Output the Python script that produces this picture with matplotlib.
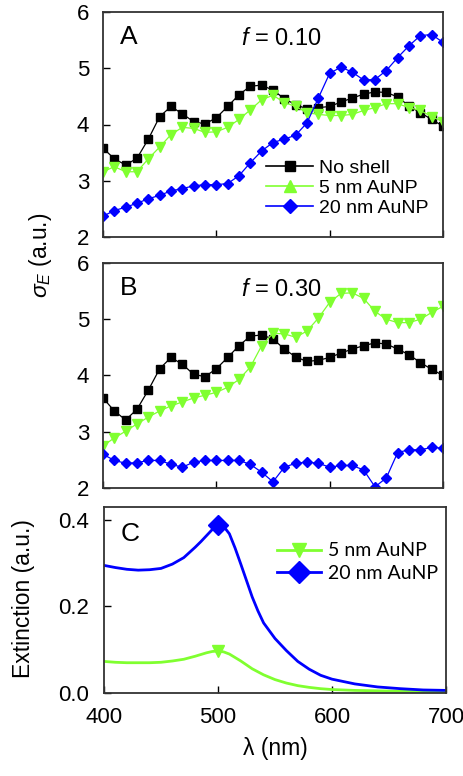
import numpy as np
import matplotlib
matplotlib.use("Agg")
import matplotlib.pyplot as plt

plt.rcParams['font.family'] = ['Liberation Sans', 'DejaVu Sans']
plt.rcParams['mathtext.fontset'] = 'custom'
plt.rcParams['mathtext.rm'] = 'Liberation Sans'
plt.rcParams['mathtext.it'] = 'Liberation Sans:italic'

# wavelength grid (nm)
wl = [400, 410, 420, 430, 440, 450, 460, 470, 480, 490, 500,
      510, 520, 530, 540, 550, 560, 570, 580, 590, 600,
      610, 620, 630, 640, 650, 660, 670, 680, 690, 700]

# panel A, f = 0.10
a_noshell = [3.58, 3.39, 3.28, 3.40, 3.74, 4.14, 4.32, 4.19, 4.05, 4.01, 4.12,
             4.32, 4.53, 4.68, 4.70, 4.61, 4.46, 4.35, 4.28, 4.30, 4.32,
             4.40, 4.47, 4.54, 4.58, 4.57, 4.49, 4.33, 4.21, 4.09, 3.97]
a_5nm = [3.16, 3.25, 3.16, 3.16, 3.39, 3.60, 3.82, 3.95, 3.93, 3.86, 3.87,
         3.95, 4.09, 4.26, 4.44, 4.52, 4.39, 4.32, 4.21, 4.18, 4.16,
         4.16, 4.18, 4.25, 4.30, 4.37, 4.37, 4.30, 4.25, 4.14, 4.05]
a_20nm = [2.37, 2.47, 2.53, 2.60, 2.68, 2.74, 2.82, 2.86, 2.91, 2.93, 2.93,
          2.95, 3.09, 3.32, 3.53, 3.68, 3.74, 3.81, 4.03, 4.47, 4.91,
          5.02, 4.93, 4.79, 4.80, 4.96, 5.19, 5.40, 5.58, 5.60, 5.46]

# panel B, f = 0.30
b_noshell = [3.60, 3.37, 3.21, 3.40, 3.74, 4.12, 4.32, 4.20, 4.02, 3.98, 4.12,
             4.32, 4.53, 4.70, 4.72, 4.65, 4.47, 4.33, 4.25, 4.27, 4.32,
             4.40, 4.47, 4.53, 4.58, 4.56, 4.47, 4.37, 4.23, 4.11, 4.00]
b_5nm = [2.75, 2.89, 3.01, 3.14, 3.26, 3.37, 3.46, 3.53, 3.60, 3.65, 3.70,
         3.79, 3.93, 4.15, 4.53, 4.75, 4.74, 4.68, 4.79, 5.02, 5.30,
         5.46, 5.47, 5.37, 5.14, 5.00, 4.94, 4.94, 5.00, 5.12, 5.23]
b_20nm = [2.60, 2.49, 2.44, 2.45, 2.49, 2.49, 2.42, 2.37, 2.46, 2.49, 2.49,
          2.49, 2.49, 2.42, 2.28, 2.11, 2.37, 2.44, 2.46, 2.44, 2.37,
          2.40, 2.40, 2.32, 2.02, 2.18, 2.63, 2.68, 2.68, 2.72, 2.71]

# panel C, extinction of bare AuNP (finer sampling round the plasmon peak)
wl_c = [400, 410, 420, 430, 440, 450, 460, 470, 480, 485, 490, 495, 500,
        505, 510, 515, 520, 525, 530, 535, 540, 550, 560, 570, 580, 590,
        600, 620, 640, 660, 680, 700]
c_5nm = [0.073, 0.071, 0.070, 0.070, 0.070, 0.071, 0.074, 0.078, 0.085, 0.089,
         0.093, 0.096, 0.097, 0.095, 0.090, 0.082, 0.074, 0.065, 0.056, 0.049,
         0.042, 0.031, 0.023, 0.017, 0.013, 0.010, 0.008, 0.006, 0.005, 0.004,
         0.003, 0.003]
c_20nm = [0.295, 0.290, 0.286, 0.284, 0.285, 0.288, 0.298, 0.313, 0.337, 0.350,
          0.364, 0.378, 0.388, 0.385, 0.368, 0.335, 0.298, 0.260, 0.222, 0.190,
          0.162, 0.126, 0.098, 0.073, 0.055, 0.041, 0.032, 0.021, 0.014, 0.010,
          0.007, 0.006]
c_peak = 500

labels = ["No shell", "5 nm AuNP", "20 nm AuNP"]
BLACK = "#000000"
GREEN = "#80ff30"
BLUE = "#0000ff"

W, H = 464, 776
fig = plt.figure(figsize=(W / 100, H / 100), dpi=100)


def box(l, t, r, b):
    return [l / W, 1 - b / H, (r - l) / W, (b - t) / H]


def style(ax):
    for s in ax.spines.values():
        s.set_color("#333333")
        s.set_linewidth(1.3)
    ax.tick_params(direction="in", length=5, width=1, labelsize=16,
                   top=False, right=False, pad=10)
    ax.set_xlim(400, 700)
    ax.set_xticks([400, 500, 600, 700])


axA = fig.add_axes(box(103, 12, 443, 237))
axB = fig.add_axes(box(103, 263, 443, 488))
axC = fig.add_axes(box(104, 507, 446, 693))

for ax, ys, tag, ftxt in [(axA, (a_noshell, a_5nm, a_20nm), "A", "0.10"),
                          (axB, (b_noshell, b_5nm, b_20nm), "B", "0.30")]:
    style(ax)
    ax.plot(wl, ys[0], color=BLACK, marker="s", ms=5.5, lw=0.9, mec=BLACK)
    ax.plot(wl, ys[1], color=GREEN, marker="v", ms=6.5, lw=0.9, mec=GREEN)
    ax.plot(wl, ys[2], color=BLUE, marker="D", ms=5.5, lw=0.9, mec=BLUE)
    ax.set_ylim(2, 6)
    ax.set_yticks([2, 3, 4, 5, 6])
    ax.set_xticklabels([])
    ax.text(0.05, 0.89, tag, transform=ax.transAxes, fontsize=19,
            ha="left", va="center")
    ax.text(0.525, 0.88, r"$f$ = " + ftxt, transform=ax.transAxes,
            fontsize=17, ha="center", va="center")

# legend in panel A (triangle drawn upward in the key)
hA = [plt.Line2D([], [], color=BLACK, marker="s", ms=7, lw=1.2),
      plt.Line2D([], [], color=GREEN, marker="^", ms=8, lw=1.2),
      plt.Line2D([], [], color=BLUE, marker="D", ms=7, lw=1.2)]
axA.legend(hA, labels, loc="upper left", bbox_to_anchor=(0.48, 0.345),
           frameon=False, fontsize=14, handlelength=2.4, handletextpad=0.3,
           labelspacing=0.13, borderpad=0, borderaxespad=0)

# panel C
style(axC)
axC.plot(wl_c, c_5nm, color=GREEN, lw=2)
axC.plot(wl_c, c_20nm, color=BLUE, lw=2)
axC.plot([c_peak], [c_5nm[wl_c.index(c_peak)]], color=GREEN, marker="v",
         ms=9, ls="none")
axC.plot([c_peak], [c_20nm[wl_c.index(c_peak)]], color=BLUE, marker="D",
         ms=10, ls="none")
axC.set_ylim(0, 0.43)
axC.set_yticks([0.0, 0.2, 0.4])
axC.set_yticklabels(["0.0", "0.2", "0.4"])
axC.tick_params(axis="y", pad=11)
axC.text(0.05, 0.855, "C", transform=axC.transAxes, fontsize=19,
         ha="left", va="center")
hC = [plt.Line2D([], [], color=GREEN, marker="v", ms=10, lw=2),
      plt.Line2D([], [], color=BLUE, marker="D", ms=11, lw=2)]
axC.legend(hC, labels[1:], loc="upper left", bbox_to_anchor=(0.505, 0.81),
           frameon=False, prop={"family": ["Lato", "DejaVu Sans"], "size": 14},
           handlelength=2.3, handletextpad=0.35, labelspacing=0.3,
           borderpad=0, borderaxespad=0)

fig.text(40 / W, 1 - 255 / H, r"$\sigma_E$ (a.u.)", rotation=90,
         fontsize=16.5, ha="center", va="center")
fig.text(24 / W, 1 - 599 / H, "Extinction (a.u.)", rotation=90,
         fontsize=16.5, ha="center", va="center")
fig.text(275 / W, 1 - 749 / H, "\u03bb (nm)", fontsize=16.5,
         ha="center", va="center")

fig.savefig("out.png", dpi=100)
